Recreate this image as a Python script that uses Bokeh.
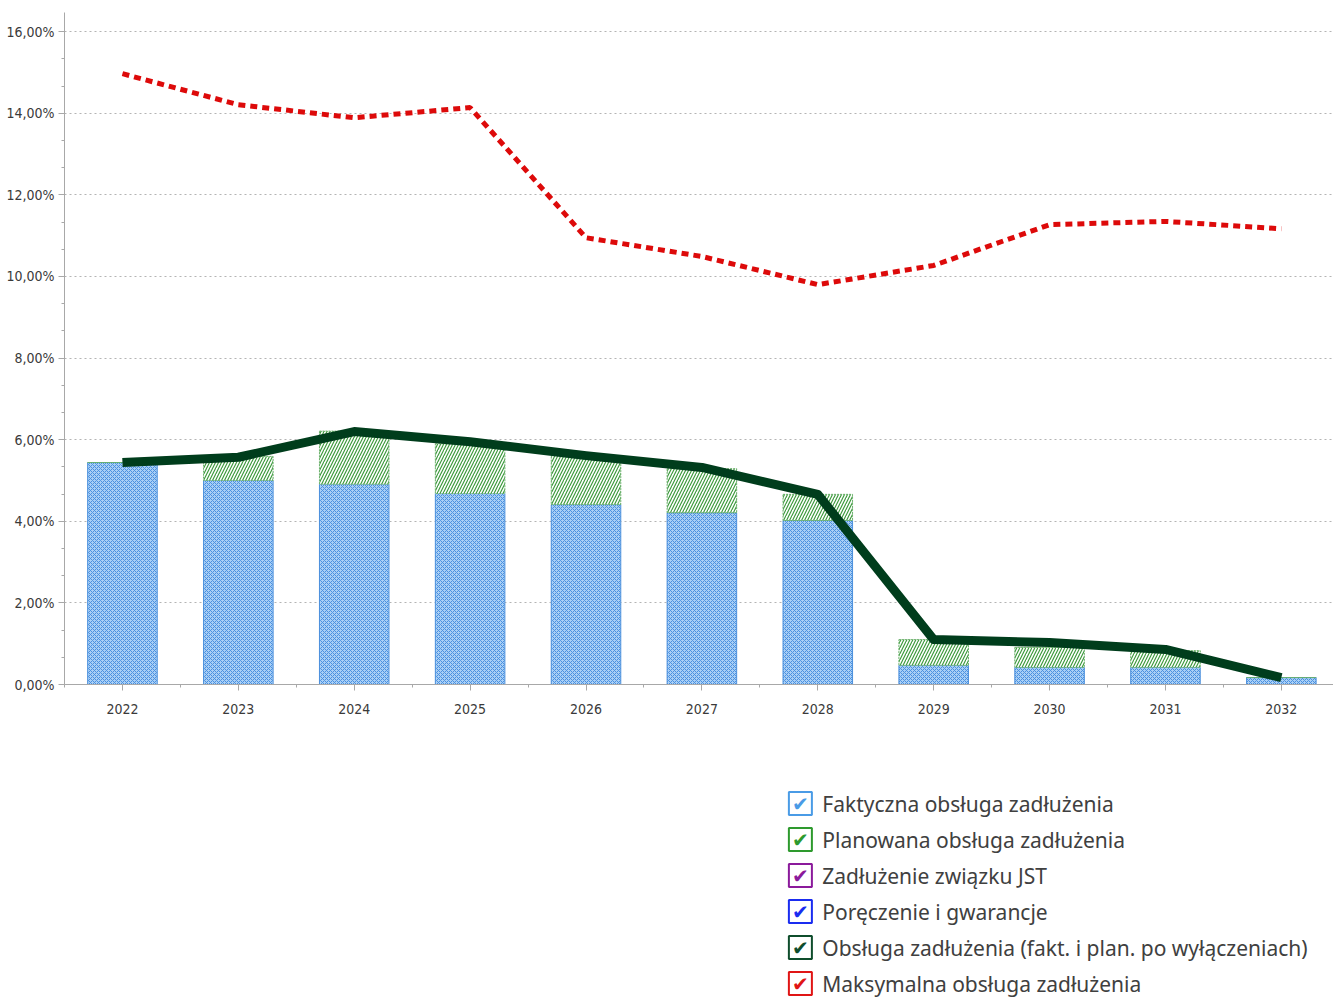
from bokeh.plotting import figure
from bokeh.layouts import column
from bokeh.models import ColumnDataSource, FixedTicker, CustomJSTickFormatter, Range1d
from bokeh.core.properties import value
from bokeh.embed import file_html
from bokeh.resources import INLINE

# ---- data ----
years = [2022, 2023, 2024, 2025, 2026, 2027, 2028, 2029, 2030, 2031, 2032]
faktyczna = [5.44, 5.00, 4.91, 4.68, 4.41, 4.21, 4.02, 0.47, 0.42, 0.42, 0.17]
planowana = [0.00, 0.59, 1.30, 1.22, 1.20, 1.08, 0.64, 0.63, 0.49, 0.41, 0.00]
obsluga = [5.44, 5.57, 6.20, 5.95, 5.61, 5.32, 4.66, 1.10, 1.03, 0.86, 0.17]
maksymalna = [14.97, 14.21, 13.89, 14.14, 10.95, 10.49, 9.80, 10.27, 11.27, 11.35, 11.17]
y_ticks = [0, 2, 4, 6, 8, 10, 12, 14, 16]
legend_names = [
    "Faktyczna obsługa zadłużenia",
    "Planowana obsługa zadłużenia",
    "Zadłużenie związku JST",
    "Poręczenie i gwarancje",
    "Obsługa zadłużenia (fakt. i plan. po wyłączeniach)",
    "Maksymalna obsługa zadłużenia",
]
legend_colors = ["#4a9be6", "#2e9a2e", "#8b1a9b", "#1a2cf0", "#0f4d2c", "#e01515"]

# ---- layout ----
W = 1333
H1 = 740
BL, BR, BT, BB = 64, 0, 12, 56
X0, X1 = 2021.5, 2032.45
Y0, Y1 = 0, 16.47

p = figure(width=W, height=H1, output_backend="svg", toolbar_location=None,
           x_range=Range1d(X0, X1), y_range=Range1d(Y0, Y1),
           min_border_left=BL, min_border_right=BR, min_border_top=BT, min_border_bottom=BB)
p.outline_line_color = None
p.background_fill_color = "white"
p.border_fill_color = "white"

src = ColumnDataSource(dict(
    x=years,
    fak=faktyczna,
    plan_bottom=faktyczna,
    plan_top=[a + b for a, b in zip(faktyczna, planowana)],
))

p.vbar(x="x", width=0.6, bottom=0, top="fak", source=src,
       fill_color="#a9cff5", line_color="#4a8fdc", line_width=1,
       hatch_pattern="diagonal_cross", hatch_color="#4a90e0", hatch_scale=4, hatch_weight=1)
p.vbar(x="x", width=0.6, bottom="plan_bottom", top="plan_top", source=src,
       fill_color="white", line_color="#6ab06a", line_width=1, line_dash="2 1",
       hatch_pattern="right_diagonal_line", hatch_color="#3d9a3d", hatch_scale=6, hatch_weight=1.2)

p.line(years, maksymalna, line_color="#dd0a0a", line_width=5, line_dash="7 5")
p.line(years, obsluga, line_color="#003d1c", line_width=9, line_join="round")

# axes
p.xgrid.grid_line_color = None
p.ygrid.ticker = FixedTicker(ticks=y_ticks)
p.ygrid.grid_line_color = "#b4b4b4"
p.ygrid.grid_line_dash = "2 3"
p.ygrid.grid_line_width = 1

minor_y = [i * 2 / 3 for i in range(0, 25)]
p.yaxis.ticker = FixedTicker(ticks=y_ticks, minor_ticks=minor_y)
p.yaxis.formatter = CustomJSTickFormatter(code="return tick.toFixed(2).replace('.', ',') + '%';")
p.xaxis.ticker = FixedTicker(ticks=years, minor_ticks=[y - 0.5 for y in years] + [years[-1] + 0.5])
p.xaxis.formatter = CustomJSTickFormatter(code="return tick.toFixed(0);")

for ax in (p.xaxis, p.yaxis):
    ax.axis_line_color = "#a8a8a8"
    ax.major_tick_line_color = "#a8a8a8"
    ax.minor_tick_line_color = "#a8a8a8"
    ax.major_tick_in = 0
    ax.minor_tick_in = 0
    ax.major_tick_out = 6
    ax.minor_tick_out = 3
    ax.major_label_text_font = "DejaVu Sans Condensed"
    ax.major_label_text_font_size = "14px"
    ax.major_label_text_color = "#3a3a3a"
p.xaxis.major_label_standoff = 13
p.yaxis.major_label_standoff = 4

# ---- legend (checkbox style) in a second panel ----
H2 = 999 - H1
SHIFT = 26  # compensates the panel's frame offset
leg = figure(width=W, height=H2, output_backend="svg", toolbar_location=None,
             x_range=Range1d(SHIFT, W + SHIFT), y_range=Range1d(H2, 0),
             x_axis_location=None, y_axis_location=None,
             min_border_left=0, min_border_right=0, min_border_top=0, min_border_bottom=0)
leg.grid.visible = False
leg.outline_line_color = None
leg.background_fill_color = "white"
leg.border_fill_color = "white"

rows = [803 - H1 + 36 * i for i in range(len(legend_names))]
lsrc = ColumnDataSource(dict(
    bx=[799] * len(rows), tx=[822] * len(rows), y=rows,
    name=legend_names, color=legend_colors, mark=["✔"] * len(rows),
))
leg.rect(x="bx", y="y", width=23, height=23, width_units="screen", height_units="screen",
         fill_color="white", line_color="color", line_width=2, source=lsrc)
leg.text(x="bx", y="y", text="mark", text_color="color", text_align="center", text_baseline="middle",
         text_font=value("DejaVu Sans"), text_font_size="20px", source=lsrc)
leg.text(x="tx", y="y", text="name", text_color="#404040", text_align="left", text_baseline="middle",
         text_font=value("Noto Sans"), text_font_size="21px", source=lsrc)

layout = column(p, leg, spacing=0)
open("out.html", "w").write(file_html(layout, INLINE))
